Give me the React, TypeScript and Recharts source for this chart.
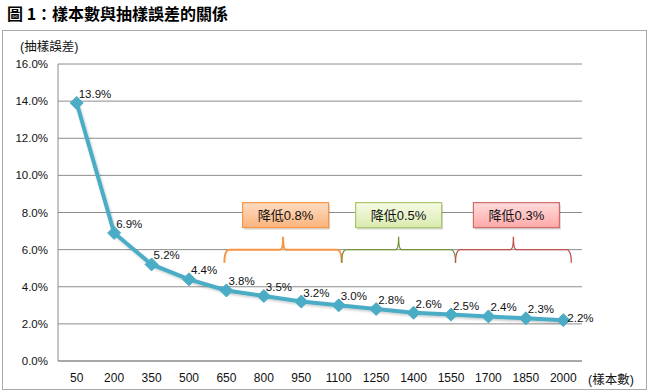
import { CartesianGrid, Line, LineChart, ReferenceLine, XAxis, YAxis } from 'recharts';

const sampleSizes = ['50', '200', '350', '500', '650', '800', '950', '1100', '1250', '1400', '1550', '1700', '1850', '2000'];
const errorRates = [13.9, 6.9, 5.2, 4.4, 3.8, 3.5, 3.2, 3.0, 2.8, 2.6, 2.5, 2.4, 2.3, 2.2];
const yTicks = [0, 2, 4, 6, 8, 10, 12, 14, 16];

const rangeStarts = ['650', '1100', '1550'];
const rangeEnds = ['1100', '1550', '2000'];
const rangeLabels = ['降低0.8%', '降低0.5%', '降低0.3%'];
const braceLevel = 6;

const data = sampleSizes.map((n, i) => ({ n, rate: errorRates[i] }));

const FONT = '"Liberation Sans", "Noto Sans CJK TC", sans-serif';
const LINE_COLOR = '#4BACC6';

// visual styling of the three brace annotations
const braceStyles = [
  { stroke: '#F79646', sw: 2, fill: 'url(#gOrange)', box: '#F79646', padL: 2, padR: 3, dx: 2.5 },
  { stroke: '#77933C', sw: 1.3, fill: 'url(#gGreen)', box: '#A9C86A', padL: -3, padR: 4.5, dx: 0 },
  { stroke: '#C0504D', sw: 1.3, fill: 'url(#gRed)', box: '#D06C6C', padL: -4.5, padR: 8, dx: 3 },
];

function makeBrace(i: number) {
  return (props: any) => {
    const s = braceStyles[i];
    const y = props.y1;
    const a = props.x1 - s.padL;
    const b = props.x2 + s.padR;
    const mid = (a + b) / 2;
    const h = 13;
    const d = `M${a},${y + h} Q${a},${y} ${a + 5},${y} L${mid - 3},${y} Q${mid},${y} ${mid},${y - 13} Q${mid},${y} ${mid + 3},${y} L${b - 5},${y} Q${b},${y} ${b},${y + h}`;
    const bx = mid + s.dx - 43;
    const by = y - 47;
    return (
      <g>
        <path d={d} fill="none" stroke={s.stroke} strokeWidth={s.sw} />
        <rect x={bx + 1.5} y={by + 2} width={86} height={25} fill="rgba(0,0,0,0.15)" />
        <rect x={bx} y={by} width={86} height={25} fill={s.fill} stroke={s.box} strokeWidth={1.2} />
        <text x={bx + 43} y={by + 17} textAnchor="middle" fontSize={13} fontFamily={FONT} fill="#111">
          {rangeLabels[i]}
        </text>
      </g>
    );
  };
}

const Diamond = (props: any) => {
  const { cx, cy } = props;
  if (cx == null || cy == null) return null;
  const r = 6.5;
  return (
    <polygon
      points={`${cx},${cy - r} ${cx + r},${cy} ${cx},${cy + r} ${cx - r},${cy}`}
      fill={LINE_COLOR}
      stroke={LINE_COLOR}
    />
  );
};

const renderLabel = (props: any) => {
  const { x, y, value, index } = props;
  const last = index === errorRates.length - 1;
  return (
    <text
      x={x + (last ? 4 : 2)}
      y={y + (last ? 2 : -5)}
      fontSize={11.5}
      fontFamily={FONT}
      fill="#111"
    >
      {`${Number(value).toFixed(1)}%`}
    </text>
  );
};

export default function App() {
  return (
    <div style={{ position: 'absolute', left: 0, top: 0, width: 648, height: 392, background: '#fff' }}>
      <div
        style={{
          position: 'absolute', left: 7, top: 2, fontSize: 16, fontWeight: 'bold',
          fontFamily: '"Noto Sans CJK TC", sans-serif', color: '#000', lineHeight: '22px',
        }}
      >
        圖 1：樣本數與抽樣誤差的關係
      </div>
      <div
        style={{
          position: 'absolute', left: 2, top: 30, width: 643, height: 358,
          border: '1.5px solid #ababab',
        }}
      />
      <div style={{ position: 'absolute', left: 20, top: 36, fontSize: 12.5, fontFamily: FONT, color: '#111' }}>
        (抽樣誤差)
      </div>
      <div style={{ position: 'absolute', left: 588, top: 369, fontSize: 12.5, fontFamily: FONT, color: '#111' }}>
        (樣本數)
      </div>
      <div style={{ position: 'absolute', left: 0, top: 0 }}>
        <LineChart width={648} height={392} data={data} margin={{ top: 64, right: 66, bottom: 1, left: 0 }}>
          <defs>
            <linearGradient id="gOrange" x1="0" y1="0" x2="0" y2="1">
              <stop offset="0%" stopColor="#FEDDC2" />
              <stop offset="100%" stopColor="#FBB37C" />
            </linearGradient>
            <linearGradient id="gGreen" x1="0" y1="0" x2="0" y2="1">
              <stop offset="0%" stopColor="#F6FBE6" />
              <stop offset="100%" stopColor="#D9EAAE" />
            </linearGradient>
            <linearGradient id="gRed" x1="0" y1="0" x2="0" y2="1">
              <stop offset="0%" stopColor="#FFDCDC" />
              <stop offset="100%" stopColor="#FFA8A8" />
            </linearGradient>
            <filter id="lineShadow" x="-5%" y="-5%" width="110%" height="120%">
              <feDropShadow dx="1" dy="1.5" stdDeviation="1" floodColor="#000" floodOpacity="0.22" />
            </filter>
          </defs>
          <CartesianGrid vertical={false} stroke="#8c8c8c" />
          <XAxis
            dataKey="n"
            padding={{ left: 18.7, right: 18.7 }}
            axisLine={{ stroke: '#8c8c8c' }}
            tickLine={false}
            tickSize={0}
            tickMargin={12}
            interval={0}
            tick={{ fontSize: 12, fontFamily: FONT, fill: '#111' }}
          />
          <YAxis
            width={58}
            domain={[0, 16]}
            ticks={yTicks}
            tickFormatter={(v: number) => `${v.toFixed(1)}%`}
            axisLine={{ stroke: '#8c8c8c' }}
            tickLine={false}
            tickSize={0}
            tickMargin={10}
            tick={{ fontSize: 11.5, fontFamily: FONT, fill: '#111' }}
          />
          {rangeStarts.map((start, i) => (
            <ReferenceLine
              key={start}
              segment={[{ x: start, y: braceLevel }, { x: rangeEnds[i], y: braceLevel }]}
              shape={makeBrace(i)}
              ifOverflow="visible"
            />
          ))}
          <Line
            type="linear"
            dataKey="rate"
            stroke={LINE_COLOR}
            strokeWidth={4}
            filter="url(#lineShadow)"
            dot={<Diamond />}
            activeDot={false}
            label={renderLabel}
            isAnimationActive={false}
          />
        </LineChart>
      </div>
    </div>
  );
}
